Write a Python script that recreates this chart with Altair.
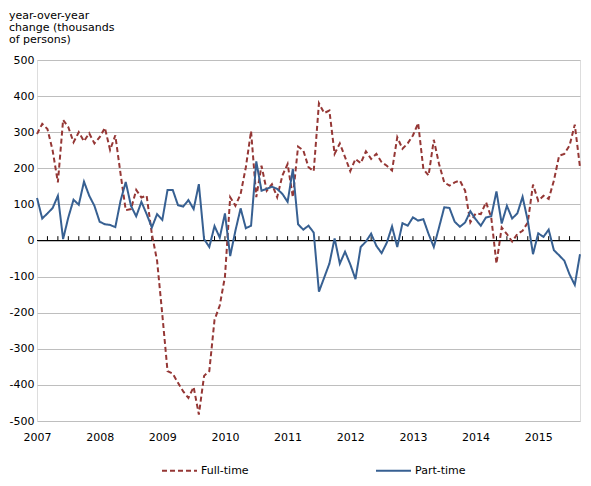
import altair as alt
import pandas as pd

# Month index 0 = January 2007 ... 104 = September 2015
full_time = [295, 323, 309, 249, 161, 334, 314, 272, 300, 275, 297, 269,
             286, 312, 251, 291, 185, 84, 87, 140, 119, 124, 18, -56,
             -205, -362, -369, -394, -418, -436, -406, -482, -375, -362, -220, -180,
             -100, 120, 96, 129, 203, 303, 120, 207, 138, 156, 120, 180,
             212, 120, 260, 250, 203, 192, 380, 353, 360, 240, 269, 231,
             192, 226, 214, 247, 226, 240, 217, 207, 194, 286, 254, 269,
             291, 325, 198, 180, 279, 212, 161, 152, 161, 166, 138, 50,
             75, 73, 106, 64, -64, 36, 18, -3, 18, 27, 50, 155,
             110, 124, 115, 166, 235, 240, 263, 321, 203]
part_time = [118, 61, 75, 90, 124, 4, 64, 113, 99, 163, 124, 96,
             52, 45, 43, 37, 110, 162, 96, 67, 107, 73, 36, 73,
             57, 140, 140, 98, 94, 112, 87, 156, 4, -18, 40, 8,
             75, -43, 27, 89, 34, 41, 219, 138, 143, 149, 143, 129,
             107, 198, 45, 30, 41, 22, -142, -103, -64, 6, -64, -31,
             -66, -107, -18, -3, 19, -15, -35, -6, 39, -18, 48, 41,
             64, 55, 59, 18, -18, 36, 92, 90, 52, 38, 50, 81,
             59, 41, 64, 67, 136, 47, 96, 61, 75, 121, 55, -38,
             20, 10, 30, -27, -41, -56, -94, -123, -38]
series_names = ["Full-time", "Part-time"]
year_ticks = [0, 12, 24, 36, 48, 60, 72, 84, 96]
minor_ticks = list(range(2, 104, 2))
y_ticks = list(range(-500, 501, 100))
title_text = "year-over-year\nchange (thousands\nof persons)"

months = list(range(len(full_time)))
df = pd.DataFrame({
    "month": months * 2,
    "value": full_time + part_time,
    "series": [series_names[0]] * len(full_time) + [series_names[1]] * len(part_time),
})
ticks_df = pd.DataFrame({"month": minor_ticks, "y0": [0] * len(minor_ticks), "y1": [12] * len(minor_ticks)})

FONT = "DejaVu Sans"

x_scale = alt.Scale(domain=[0, 104], nice=False, zero=False)
y_scale = alt.Scale(domain=[-500, 500], nice=False)

x_axis = alt.Axis(values=year_ticks, labelExpr="'' + (2007 + datum.value / 12)",
                  ticks=False, domain=False, grid=False, title=None,
                  labelFont=FONT, labelFontSize=11, labelColor="#000000",
                  labelPadding=10, labelFlush=False, labelOverlap=False)
y_axis = alt.Axis(values=y_ticks, labelExpr="'' + datum.value",
                  ticks=False, domain=False, grid=True,
                  gridColor="#BEBEBE", gridWidth=1, title=None,
                  labelFont=FONT, labelFontSize=11, labelColor="#000000",
                  labelPadding=3, labelOverlap=False, labelFlush=False)

legend = alt.Legend(title=None, orient="none", legendX=124, legendY=392,
                    direction="horizontal", symbolType="stroke",
                    symbolSize=1225, symbolStrokeWidth=2,
                    labelFont=FONT, labelFontSize=11, labelColor="#000000",
                    labelOffset=3, columnPadding=123)

zero_line = alt.Chart(pd.DataFrame({"y": [0]})).mark_rule(color="#000000", strokeWidth=1).encode(
    y=alt.Y("y:Q", scale=y_scale, axis=y_axis)
)

minor = alt.Chart(ticks_df).mark_rule(color="#000000", strokeWidth=1).encode(
    x=alt.X("month:Q", scale=x_scale, axis=x_axis),
    y=alt.Y("y0:Q", scale=y_scale, axis=y_axis),
    y2="y1:Q",
)

lines = alt.Chart(df).mark_line(strokeWidth=2).encode(
    x=alt.X("month:Q", scale=x_scale, axis=x_axis),
    y=alt.Y("value:Q", scale=y_scale, axis=y_axis),
    color=alt.Color("series:N",
                    scale=alt.Scale(domain=series_names, range=["#953735", "#376092"]),
                    legend=legend),
    strokeDash=alt.StrokeDash("series:N",
                              scale=alt.Scale(domain=series_names, range=[[5, 3], [1, 0]]),
                              legend=legend),
    detail="series:N",
)

title = alt.Chart(pd.DataFrame({"t": [title_text]})).mark_text(
    align="left", baseline="alphabetic", lineBreak="\n", lineHeight=12,
    font=FONT, fontSize=11, color="#000000"
).encode(x=alt.value(-28), y=alt.value(-41), text="t:N")

chart = alt.layer(zero_line, minor, lines, title).properties(
    width=543, height=361,
    autosize=alt.AutoSizeParams(type="none"),
    padding={"left": 29, "top": 52, "right": 3, "bottom": 65},
).configure_view(stroke="#000000", strokeWidth=1).configure(background="#ffffff")

chart.save("out.html", embed_options={"renderer": "svg", "actions": False})
